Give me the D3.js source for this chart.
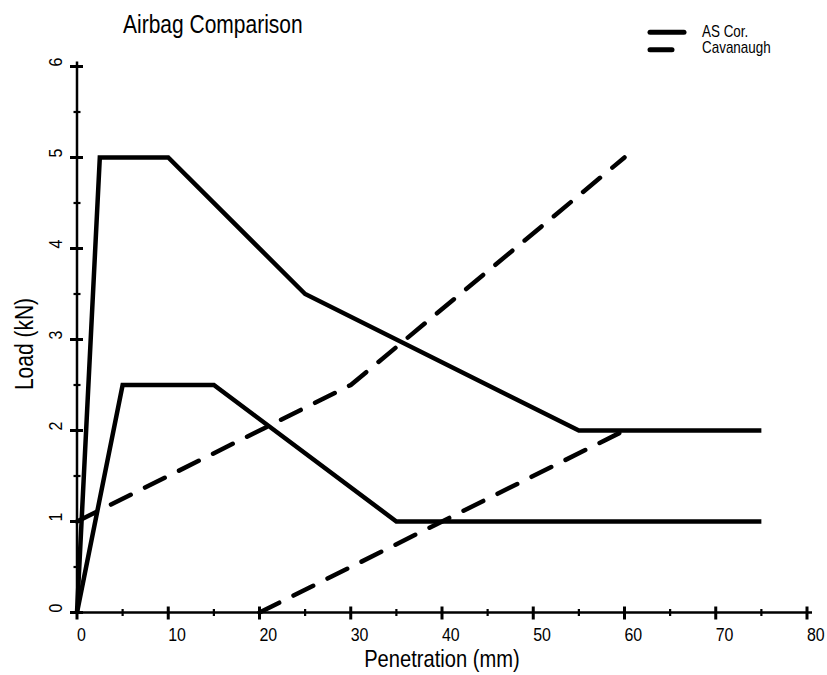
<!DOCTYPE html>
<html>
<head>
<meta charset="utf-8">
<script src="https://cdn.jsdelivr.net/npm/d3@7"></script>
<style>
  body { margin: 0; background: #fff; }
  svg { display: block; }
  text { font-family: "Liberation Sans", Arial, sans-serif; fill: #000; }
</style>
</head>
<body>
<svg id="chart" width="827" height="675"></svg>
<script>
// ---- data ----
const title = "Airbag Comparison";
const xLabel = "Penetration (mm)";
const yLabel = "Load (kN)";
const legendNames = ["AS Cor.", "Cavanaugh"];

const asCorHighX = [0, 2.5, 10, 25, 55, 75];
const asCorHighY = [0, 5, 5, 3.5, 2, 2];
const asCorLowX = [0, 5, 15, 35, 75];
const asCorLowY = [0, 2.5, 2.5, 1, 1];
const cavHighX = [0, 30, 60];
const cavHighY = [1, 2.5, 5];
const cavLowX = [20, 60];
const cavLowY = [0, 2];

const xTicks = [0, 10, 20, 30, 40, 50, 60, 70, 80];
const yTicks = [0, 1, 2, 3, 4, 5, 6];
const xMinor = [5, 15, 25, 35, 45, 55, 65, 75];
const yMinor = [0.5, 1.5, 2.5, 3.5, 4.5, 5.5];

// ---- layout ----
const svg = d3.select("#chart");
const x = d3.scaleLinear().domain([0, 80]).range([77, 807]);
const y = d3.scaleLinear().domain([0, 6]).range([612.5, 66.5]);
const NARROW = 0.84;

const series = [
  { xs: asCorHighX, ys: asCorHighY, dashed: false },
  { xs: asCorLowX, ys: asCorLowY, dashed: false },
  { xs: cavHighX, ys: cavHighY, dashed: true },
  { xs: cavLowX, ys: cavLowY, dashed: true }
];
const dash = "22,16";

function addText(tx, ty, rot, size, anchor, str) {
  return svg.append("text")
    .attr("transform", `translate(${tx},${ty})${rot ? " rotate(" + rot + ")" : ""} scale(${NARROW},1)`)
    .attr("font-size", size).attr("text-anchor", anchor).text(str);
}

// axes lines
svg.append("line").attr("x1", x(0)).attr("x2", x(80) + 5)
  .attr("y1", y(0)).attr("y2", y(0))
  .attr("stroke", "#000").attr("stroke-width", 2.5);
svg.append("line").attr("x1", x(0)).attr("x2", x(0))
  .attr("y1", y(0)).attr("y2", y(6) - 5)
  .attr("stroke", "#000").attr("stroke-width", 2.5);

// x ticks
svg.selectAll(".xt").data(xTicks).join("line")
  .attr("x1", d => x(d)).attr("x2", d => x(d))
  .attr("y1", y(0) - 6).attr("y2", y(0) + 7)
  .attr("stroke", "#000").attr("stroke-width", 3);
svg.selectAll(".xm").data(xMinor).join("line")
  .attr("x1", d => x(d)).attr("x2", d => x(d))
  .attr("y1", y(0) - 3.5).attr("y2", y(0) + 3.5)
  .attr("stroke", "#000").attr("stroke-width", 2.2);
xTicks.forEach(d => addText(x(d), 641, 0, 19, "start", d));

// y ticks
svg.selectAll(".yt").data(yTicks).join("line")
  .attr("y1", d => y(d)).attr("y2", d => y(d))
  .attr("x1", x(0) - 7).attr("x2", x(0) + 6)
  .attr("stroke", "#000").attr("stroke-width", 3);
svg.selectAll(".ym").data(yMinor).join("line")
  .attr("y1", d => y(d)).attr("y2", d => y(d))
  .attr("x1", x(0) - 3.5).attr("x2", x(0) + 3.5)
  .attr("stroke", "#000").attr("stroke-width", 2.2);
yTicks.forEach(d => addText(62, y(d), -90, 19, "start", d));

// series
const line = d3.line().x(d => x(d[0])).y(d => y(d[1]));
series.forEach(s => {
  const pts = s.xs.map((v, i) => [v, s.ys[i]]);
  svg.append("path").attr("d", line(pts))
    .attr("fill", "none").attr("stroke", "#000")
    .attr("stroke-width", 4.5)
    .attr("stroke-linejoin", "miter")
    .attr("stroke-linecap", s.dashed ? "round" : "butt")
    .attr("stroke-dasharray", s.dashed ? dash : null);
});

// titles
addText(123, 33, 0, 25, "start", title);
addText(442, 667, 0, 24, "middle", xLabel);
addText(33, 344, -90, 25, "middle", yLabel);

// legend
legendNames.forEach((name, i) => {
  const ly = 32.3 + i * 17.5;
  svg.append("line").attr("x1", 650).attr("x2", 684)
    .attr("y1", ly).attr("y2", ly)
    .attr("stroke", "#000").attr("stroke-width", 5).attr("stroke-linecap", "round")
    .attr("stroke-dasharray", i === 1 ? dash : null);
  addText(702, 36.7 + i * 16, 0, 16, "start", name);
});
</script>
</body>
</html>
